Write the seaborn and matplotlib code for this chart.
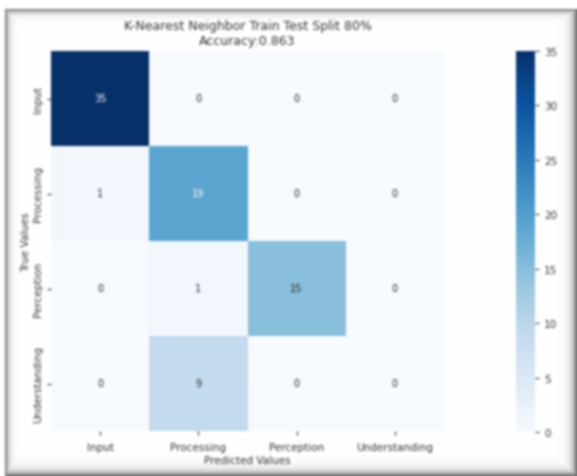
import io
import numpy as np
import pandas as pd
import matplotlib
matplotlib.use("Agg")
import matplotlib.pyplot as plt
import seaborn as sns

labels = ["Input", "Processing", "Perception", "Understanding"]
row_input = [35, 0, 0, 0]
row_processing = [1, 19, 0, 0]
row_perception = [0, 1, 15, 0]
row_understanding = [0, 9, 0, 0]
accuracy = 0.863

cm = pd.DataFrame([row_input, row_processing, row_perception, row_understanding],
                  index=labels, columns=labels)

W, H, DPI = 577, 477, 100
fig = plt.figure(figsize=(W / DPI, H / DPI), dpi=DPI, facecolor="white")

ax = fig.add_axes([51 / W, 1 - 432 / H, (444 - 51) / W, (432 - 52) / H])
cax = fig.add_axes([516 / W, 1 - 433 / H, (535 - 516) / W, (433 - 52) / H])

sns.heatmap(cm, annot=True, fmt="d", cmap="Blues", ax=ax, cbar_ax=cax,
            annot_kws={"fontsize": 7})
ax.set_title("K-Nearest Neighbor Train Test Split 80%\nAccuracy:{:.3f}".format(accuracy),
             fontsize=9, color="#333333", pad=5, linespacing=1.2)
ax.set_xlabel("Predicted Values", fontsize=7.5, color="#333333", labelpad=2)
ax.set_ylabel("True Values", fontsize=7.5, color="#333333", labelpad=1)
ax.tick_params(axis="x", labelsize=7.5, colors="#333333", length=3, pad=5)
ax.tick_params(axis="y", labelsize=7.5, colors="#333333", length=3, pad=3)
ax.set_yticklabels(labels, rotation=90, va="center")
cax.tick_params(labelsize=7.5, colors="#333333", length=3)
for sp in cax.spines.values():
    sp.set_visible(False)

buf = io.BytesIO()
fig.savefig(buf, format="png", dpi=DPI, facecolor="white")
buf.seek(0)
img = plt.imread(buf)[..., :3].copy()
h, w = img.shape[:2]

# window frame: dark edge with a soft inner shadow
yy, xx = np.mgrid[0:h, 0:w].astype(float)
dl = xx - 5
dt = yy - 9
dr = (w - 1) - xx
db = (h - 1) - yy
shade = np.maximum.reduce([
    0.75 * np.exp(-np.clip(dl, 0, None) / 3.0),
    0.75 * np.exp(-np.clip(dt, 0, None) / 3.0),
    0.8 * np.exp(-np.clip(dr, 0, None) / 4.0),
    0.8 * np.exp(-np.clip(db, 0, None) / 4.0),
])
outside = (dl < 0) | (dt < 0)
shade[outside] = 0.0
gray = 0.3
img = img * (1 - shade[..., None]) + gray * shade[..., None]
img[outside] = 1.0

k = np.array([1, 2, 3, 2, 1], dtype=float)
k /= k.sum()
pad = np.pad(img, ((2, 2), (2, 2), (0, 0)), mode="edge")
tmp = sum(k[j] * pad[j:j + h, :, :] for j in range(5))
out = sum(k[j] * tmp[:, j:j + w, :] for j in range(5))
plt.imsave("out.png", np.clip(out, 0, 1))
